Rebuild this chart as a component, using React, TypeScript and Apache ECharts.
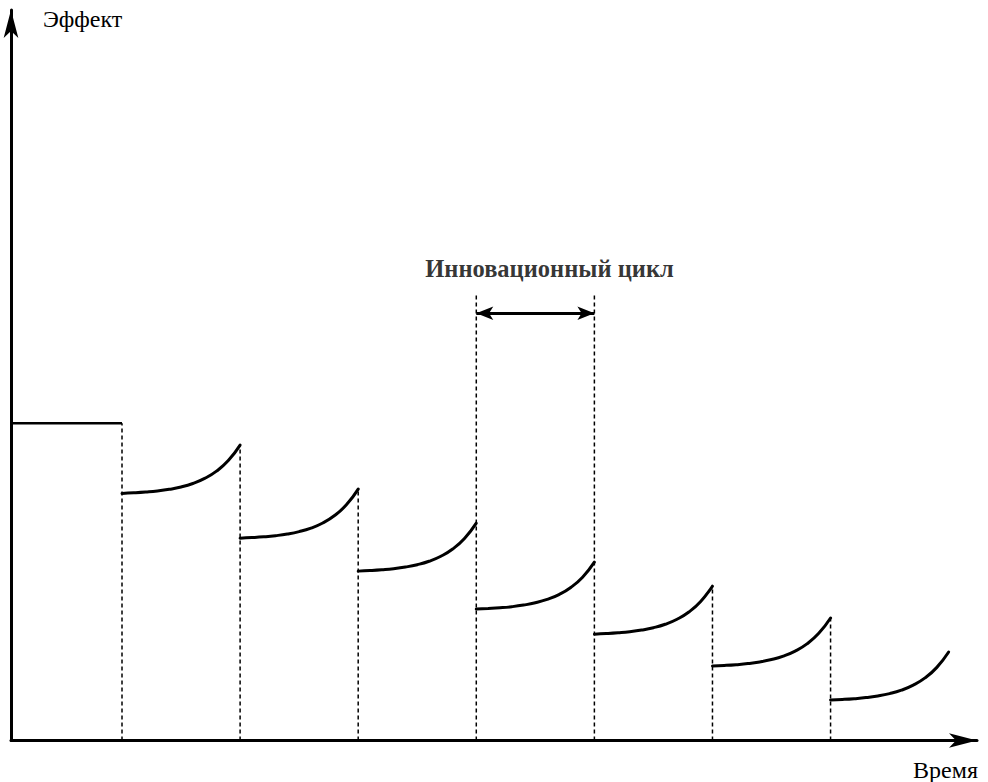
import React, { useEffect, useRef } from "react";
import * as echarts from "echarts";

// Cycle boundaries (time units)
const boundaries = [1, 2, 3, 4, 5, 6, 7, 8];
// Relative positions of the read points within one cycle
const cycleOffsets = [0, 0.1, 0.2, 0.3, 0.4, 0.5, 0.6, 0.7, 0.8, 0.9, 1];
// Effect level of the initial period
const initialLevel = 44.3;
// Effect values along each innovation cycle
const curve1 = [34.5, 34.58, 34.69, 34.84, 35.07, 35.4, 35.89, 36.59, 37.61, 39.09, 41.25];
const curve2 = [28.25, 28.33, 28.44, 28.6, 28.83, 29.17, 29.66, 30.37, 31.41, 32.91, 35.1];
const curve3 = [23.65, 23.73, 23.84, 23.99, 24.22, 24.55, 25.03, 25.73, 26.74, 28.21, 30.35];
const curve4 = [18.35, 18.43, 18.53, 18.68, 18.91, 19.23, 19.7, 20.38, 21.37, 22.8, 24.9];
const curve5 = [14.85, 14.93, 15.04, 15.19, 15.42, 15.75, 16.23, 16.93, 17.94, 19.41, 21.55];
const curve6 = [10.4, 10.48, 10.59, 10.74, 10.97, 11.3, 11.78, 12.48, 13.49, 14.96, 17.1];
const curve7 = [5.65, 5.73, 5.84, 5.99, 6.22, 6.55, 7.03, 7.73, 8.74, 10.21, 12.35];
const curves = [curve1, curve2, curve3, curve4, curve5, curve6, curve7];
// Tops of the dashed boundary lines
const dashTops = [44.3, 41.25, 35.1, 62.45, 62.45, 21.55, 17.1];
// Innovation cycle marker
const cycleMarkStart = 4;
const cycleMarkEnd = 5;
const cycleMarkLevel = 59.66;
const cycleLabelPos = [4.62, 65.95];
const cycleLabel = "Инновационный цикл";
const yLabel = "Эффект";
const xLabel = "Время";

const X_MIN = 0.06;
const X_MAX = 8.24;
const Y_MAX = 102;

export default function App() {
  const ref = useRef<HTMLDivElement>(null);
  useEffect(() => {
    if (!ref.current) return;
    const chart = echarts.init(ref.current, undefined, { renderer: "svg" });
    const font = "Liberation Serif";
    const series: any[] = [];
    series.push({
      type: "line",
      data: [
        [X_MIN, initialLevel],
        [boundaries[0], initialLevel],
      ],
      symbol: "none",
      lineStyle: { color: "#000", width: 2.5 },
      z: 3,
    });
    curves.forEach((c, i) => {
      series.push({
        type: "line",
        smooth: true,
        symbol: "none",
        data: c.map((v, j) => [boundaries[i] + cycleOffsets[j], v]),
        lineStyle: { color: "#000", width: 3, cap: "round" },
        z: 3,
      });
    });
    dashTops.forEach((top, i) => {
      series.push({
        type: "line",
        symbol: "none",
        data: [
          [boundaries[i], 0],
          [boundaries[i], top],
        ],
        lineStyle: { color: "#000", width: 1.5, type: [4, 3] },
        z: 2,
      });
    });
    series.push({
      type: "line",
      symbol: "none",
      data: [],
      markLine: {
        silent: true,
        symbol: ["arrow", "arrow"],
        symbolSize: [10, 17],
        label: { show: false },
        lineStyle: { color: "#000", width: 3, type: "solid" },
        data: [
          [
            { coord: [cycleMarkStart, cycleMarkLevel] },
            { coord: [cycleMarkEnd, cycleMarkLevel] },
          ],
        ],
      },
    });
    series.push({
      type: "scatter",
      symbolSize: 0,
      data: [cycleLabelPos],
      label: {
        show: true,
        position: "inside",
        formatter: cycleLabel,
        color: "#000",
        fontFamily: font,
        fontWeight: "bold",
        fontSize: 24.5,
      },
    });

    chart.setOption({
      animation: false,
      backgroundColor: "#fff",
      grid: { left: 11, right: 11, top: 10, bottom: 41.5 },
      xAxis: {
        type: "value",
        min: X_MIN,
        max: X_MAX,
        axisLine: {
          show: true,
          onZero: false,
          symbol: ["none", "arrow"],
          symbolSize: [11, 28],
          lineStyle: { color: "#000", width: 3 },
        },
        axisTick: { show: false },
        axisLabel: { show: false },
        splitLine: { show: false },
      },
      yAxis: {
        type: "value",
        min: 0,
        max: Y_MAX,
        axisLine: {
          show: true,
          onZero: false,
          symbol: ["none", "arrow"],
          symbolSize: [11, 28],
          lineStyle: { color: "#000", width: 3 },
        },
        axisTick: { show: false },
        axisLabel: { show: false },
        splitLine: { show: false },
      },
      graphic: [
        {
          type: "text",
          x: 43,
          y: 19,
          style: {
            text: yLabel,
            fill: "#000",
            fontSize: 24,
            fontFamily: font,
            textAlign: "left",
            textVerticalAlign: "middle",
          },
        },
        {
          type: "text",
          x: 978,
          y: 770,
          style: {
            text: xLabel,
            fill: "#000",
            fontSize: 24,
            fontFamily: font,
            textAlign: "right",
            textVerticalAlign: "middle",
          },
        },
      ],
      series,
    });
    return () => chart.dispose();
  }, []);
  return <div ref={ref} style={{ width: 988, height: 782, position: "absolute", left: 0, top: 0 }} />;
}
